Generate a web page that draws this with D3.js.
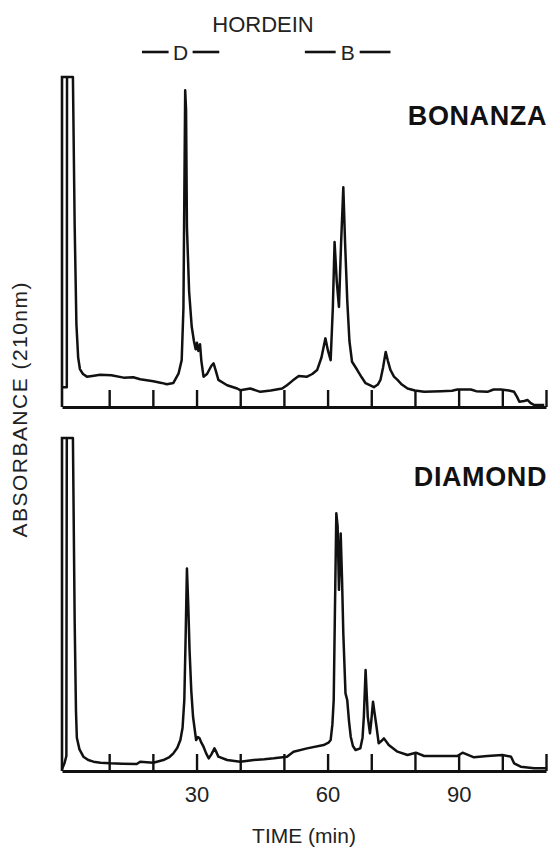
<!DOCTYPE html>
<html>
<head>
<meta charset="utf-8">
<script src="https://cdn.jsdelivr.net/npm/d3@7"></script>
<style>
  body { margin: 0; background: #fff; }
  svg { display: block; font-family: "Liberation Sans", Arial, Helvetica, sans-serif; }
</style>
</head>
<body>
<div id="chart"></div>
<script>
// x ticks every 10 min, only some of them labelled
var timeTicks = [10, 20, 30, 40, 50, 60, 70, 80, 90, 100, 110];
var timeLabels = [30, 60, 90];

// hordein groups marked above the traces (start / end in min)
var groupNames = ['D', 'B'];
var groupStart = [17.5, 54.8];
var groupEnd = [35.2, 74.4];

// cultivar names, one per panel
var cultivars = ['BONANZA', 'DIAMOND'];

// traces: [time (min), absorbance (% of full scale)]
var bonanzaTrace = [
  [-0.8, 6], [0.3, 6], [0.35, 100], [1.7, 100], [2.1, 55], [2.5, 25], [2.9, 15],
  [3.3, 11.5], [4.0, 10], [4.9, 9.2], [6.5, 9.5], [7.9, 9.8], [10.5, 9.6],
  [13.3, 8.9], [15.5, 9.0], [17.1, 8.4], [20.1, 7.8], [22, 7.3], [23.2, 6.9],
  [24.7, 7.3], [25.9, 10.2], [26.6, 14.2], [27.0, 30], [27.4, 96], [27.6, 90],
  [27.8, 54.5], [28.3, 35], [28.9, 24.3], [29.4, 20], [29.8, 17.5], [30.1, 19.5],
  [30.4, 17], [30.8, 19], [31.1, 14], [31.6, 9.2], [32.4, 10], [33.4, 12.5],
  [33.9, 13.2], [34.4, 11], [35, 8.2], [37, 6.6], [39.3, 5.6], [40, 5.1],
  [42.3, 5.6], [44.6, 4.6], [47, 5.0], [49.6, 5.6], [50.7, 6.6], [52, 8],
  [53.4, 9.4], [55.3, 9.2], [56.5, 10], [57.6, 11.2], [58.6, 15], [59.5, 20.8],
  [60.1, 17], [60.7, 14.2], [61.2, 30], [61.6, 50], [62.1, 38], [62.6, 30.3],
  [63.1, 50], [63.6, 66.6], [64.0, 50], [64.5, 32.3], [65.0, 20], [65.6, 13.7],
  [66.8, 11.2], [67.8, 9], [68.7, 7.2], [70.6, 6], [71.5, 6.8], [72.1, 8.2],
  [72.7, 12], [73.3, 16.7], [73.8, 14], [74.4, 11.2], [75.2, 9.2], [76, 8.2],
  [77, 6.8], [78.3, 5.6], [80, 5.0], [82.1, 4.6], [86, 4.8], [88.5, 4.9],
  [89.7, 5.3], [92.8, 5.3], [94, 4.8], [96.6, 4.6], [98, 5.3], [99.7, 5.3],
  [101.5, 5.0], [102.7, 4.6], [103.4, 3.0], [103.9, 1.6], [105, 1.8],
  [105.8, 2.1], [106.5, 1.2], [107.3, 0.6], [109.6, 0.6]
];

var diamondTrace = [
  [-0.8, 0.5], [-0.2, 2.5], [0.2, 4.5], [0.3, 100], [1.7, 100], [2.1, 45],
  [2.4, 18], [2.6, 10], [3.2, 6.5], [4.1, 4.3], [5.2, 3.3], [6.4, 2.8], [8, 2.5],
  [10.2, 2.3], [13, 2.2], [16.3, 2.1], [17.1, 2.8], [20.1, 2.5], [22.4, 3.3],
  [23.8, 4.2], [24.7, 5.3], [25.6, 7], [26.3, 9.3], [26.8, 13], [27.2, 21.3],
  [27.5, 40], [27.8, 60.8], [28.1, 50], [28.4, 36.3], [28.8, 24], [29.2, 16.3],
  [29.9, 9.3], [30.3, 10.2], [30.7, 9.8], [31.1, 8.5], [31.6, 7.3], [32.2, 5.3],
  [32.8, 3.8], [33.4, 5], [34.1, 6.8], [34.6, 5.5], [35, 4.3], [37, 3.3],
  [40, 2.8], [43.1, 3.3], [45.5, 3.5], [47.7, 3.8], [50.7, 4.3], [52.2, 5.8],
  [55.3, 6.8], [59.1, 7.8], [60.2, 8.5], [60.7, 9.3], [61.1, 14], [61.4, 21.3],
  [61.7, 50], [62, 77.4], [62.3, 73.4], [62.6, 54.4], [63, 71.3], [63.3, 58],
  [63.6, 41.3], [64.1, 23.3], [64.5, 21.3], [64.9, 15], [65.3, 10.3],
  [65.8, 7.5], [66.4, 6.3], [67.5, 6.8], [68, 10], [68.3, 16.3], [68.7, 30.3],
  [69.0, 22], [69.2, 16.3], [69.7, 11.3], [70.0, 15], [70.4, 20.8], [70.8, 17],
  [71.2, 13.3], [71.7, 8.3], [72.3, 9], [72.9, 9.8], [74, 7.8], [76, 5.8],
  [78.3, 4.8], [80.2, 5.5], [82.1, 4.5], [86, 4.5], [89.7, 4.5], [90.9, 5.5],
  [93.5, 4.1], [96.6, 4.5], [100, 4.8], [102, 4.3], [102.7, 2.3], [104.2, 1.3],
  [107.3, 0.8], [110, 0.8]
];

var traces = [bonanzaTrace, diamondTrace];
var injectionEnd = 0.3;   // where the off-scale injection peak starts

var width = 549, height = 849;
var panels = [
  { top: 77, bottom: 407 },
  { top: 438, bottom: 771 }
];

var svg = d3.select('#chart').append('svg')
  .attr('width', width)
  .attr('height', height);

svg.append('rect')
  .attr('width', width)
  .attr('height', height)
  .attr('fill', '#fff');

var x = d3.scaleLinear()
  .domain([-0.8, 110])
  .range([62, 546]);

var line = d3.line().curve(d3.curveLinear);

panels.forEach(function(p, i) {
  var y = d3.scaleLinear()
    .domain([0, 100])
    .range([p.bottom, p.top]);

  var g = svg.append('g');

  // left frame: axis up to full scale, then across to the injection peak
  var frame = [[x.domain()[0], 0], [x.domain()[0], 100], [injectionEnd, 100]];
  g.append('path')
    .attr('d', line.x(function(d) { return x(d[0]); }).y(function(d) { return y(d[1]); })(frame))
    .attr('fill', 'none')
    .attr('stroke', '#111')
    .attr('stroke-width', 2.6)
    .attr('stroke-linejoin', 'miter');

  // trace
  g.append('path')
    .attr('d', line.x(function(d) { return x(d[0]); }).y(function(d) { return y(d[1]); })(traces[i]))
    .attr('fill', 'none')
    .attr('stroke', '#111')
    .attr('stroke-width', 2.5)
    .attr('stroke-linejoin', 'round');

  // time axis with ticks pointing up
  var axis = d3.axisBottom(x)
    .tickValues(timeTicks)
    .tickSizeInner(-17)
    .tickSizeOuter(0)
    .tickPadding(15)
    .tickFormat(function(d) {
      return (i == panels.length - 1 && timeLabels.indexOf(d) >= 0) ? d : '';
    });

  var ax = g.append('g')
    .attr('transform', 'translate(0,' + p.bottom + ')')
    .call(axis);

  ax.select('.domain')
    .attr('stroke', '#111')
    .attr('stroke-width', 2.8);
  ax.selectAll('.tick line')
    .attr('stroke', '#111')
    .attr('stroke-width', 2.4);
  ax.selectAll('.tick text')
    .attr('fill', '#222')
    .attr('font-family', '"Liberation Sans", Arial, sans-serif')
    .attr('font-size', 22);

  // cultivar name
  g.append('text')
    .attr('x', 547)
    .attr('y', p.top + 48)
    .attr('text-anchor', 'end')
    .attr('font-size', 27)
    .attr('font-weight', 'bold')
    .attr('letter-spacing', 0.6)
    .attr('fill', '#111')
    .text(cultivars[i]);
});

// HORDEIN header with group brackets
svg.append('text')
  .attr('x', 263)
  .attr('y', 32)
  .attr('text-anchor', 'middle')
  .attr('font-size', 22)
  .attr('fill', '#222')
  .text('HORDEIN');

groupNames.forEach(function(name, i) {
  var x0 = x(groupStart[i]), x1 = x(groupEnd[i]);
  var mid = (x0 + x1) / 2;
  var gap = 12;
  var gg = svg.append('g');
  gg.append('line')
    .attr('x1', x0).attr('x2', mid - gap)
    .attr('y1', 52).attr('y2', 52)
    .attr('stroke', '#111').attr('stroke-width', 2.6);
  gg.append('line')
    .attr('x1', mid + gap).attr('x2', x1)
    .attr('y1', 52).attr('y2', 52)
    .attr('stroke', '#111').attr('stroke-width', 2.6);
  gg.append('text')
    .attr('x', mid)
    .attr('y', 60)
    .attr('text-anchor', 'middle')
    .attr('font-size', 21)
    .attr('fill', '#222')
    .text(name);
});

// axis titles
svg.append('text')
  .attr('x', 304)
  .attr('y', 843)
  .attr('text-anchor', 'middle')
  .attr('font-size', 21)
  .attr('fill', '#222')
  .text('TIME (min)');

svg.append('text')
  .attr('transform', 'translate(27,410) rotate(-90)')
  .attr('text-anchor', 'middle')
  .attr('font-size', 21)
  .attr('textLength', 255)
  .attr('lengthAdjust', 'spacing')
  .attr('fill', '#222')
  .text('ABSORBANCE (210nm)');
</script>
</body>
</html>
